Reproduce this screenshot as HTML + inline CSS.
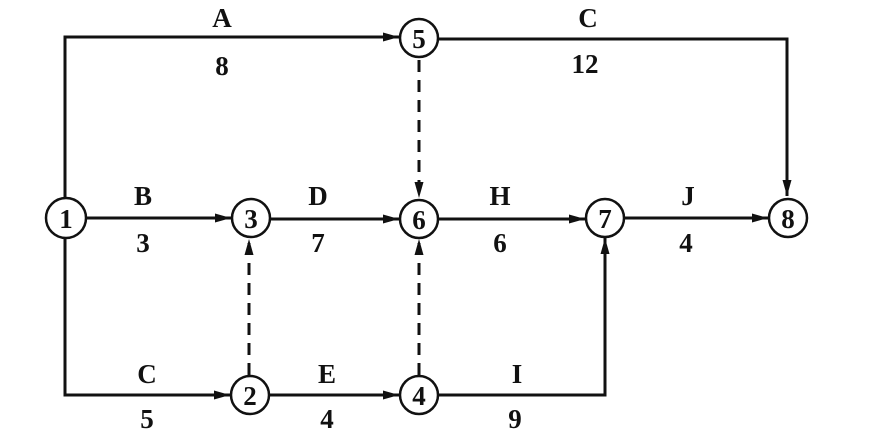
<!DOCTYPE html>
<html><head><style>body{margin:0;background:#fff}</style></head><body>
<svg width="882" height="442" xmlns="http://www.w3.org/2000/svg" style="display:block">
<defs><marker id="b" markerWidth="16" markerHeight="9" refX="16" refY="4.5" orient="auto" markerUnits="userSpaceOnUse"><path d="M0,0 L16,4.5 L0,9 z" fill="#111"/></marker></defs>
<g stroke="#111" stroke-width="3" fill="none">
<polyline points="65,198 65,37 399,37" marker-end="url(#b)"/>
<polyline points="439,39 787,39 787,196" marker-end="url(#b)"/>
<polyline points="65,238 65,395 230,395" marker-end="url(#b)"/>
<line x1="86" y1="218" x2="231" y2="218" marker-end="url(#b)"/>
<line x1="271" y1="219" x2="399" y2="219" marker-end="url(#b)"/>
<line x1="439" y1="219" x2="585" y2="219" marker-end="url(#b)"/>
<line x1="625" y1="218" x2="768" y2="218" marker-end="url(#b)"/>
<line x1="270" y1="395" x2="399" y2="395" marker-end="url(#b)"/>
<polyline points="439,395 605,395 605,238" marker-end="url(#b)"/>
<g stroke-dasharray="12,8">
<line x1="419" y1="60" x2="419" y2="198" marker-end="url(#b)"/>
<line x1="249" y1="375" x2="249" y2="239" marker-end="url(#b)"/>
<line x1="419" y1="375" x2="419" y2="239" marker-end="url(#b)"/>
</g>
</g>
<g stroke="#111" stroke-width="2.5" fill="#fff">
<circle cx="66" cy="218" r="20"/><circle cx="251" cy="218" r="19"/><circle cx="419" cy="219" r="19"/>
<circle cx="419" cy="38" r="19"/><circle cx="250" cy="395" r="19"/><circle cx="419" cy="395" r="19"/>
<circle cx="605" cy="218" r="19"/><circle cx="788" cy="218" r="19"/>
</g>
<g font-family="Liberation Serif,serif" font-weight="bold" font-size="27" text-anchor="middle" fill="#111">
<text x="66" y="228">1</text><text x="251" y="228">3</text><text x="419" y="229">6</text>
<text x="419" y="48">5</text><text x="250" y="405">2</text><text x="419" y="405">4</text>
<text x="605" y="228">7</text><text x="788" y="228">8</text>
<text x="222" y="27">A</text><text x="222" y="75">8</text>
<text x="588" y="27">C</text><text x="585" y="73">12</text>
<text x="143" y="205">B</text><text x="143" y="252">3</text>
<text x="318" y="205">D</text><text x="318" y="252">7</text>
<text x="500" y="205">H</text><text x="500" y="252">6</text>
<text x="688" y="205">J</text><text x="686" y="252">4</text>
<text x="147" y="383">C</text><text x="147" y="428">5</text>
<text x="327" y="383">E</text><text x="327" y="428">4</text>
<text x="517" y="383">I</text><text x="515" y="428">9</text>
</g>
</svg>
</body></html>
